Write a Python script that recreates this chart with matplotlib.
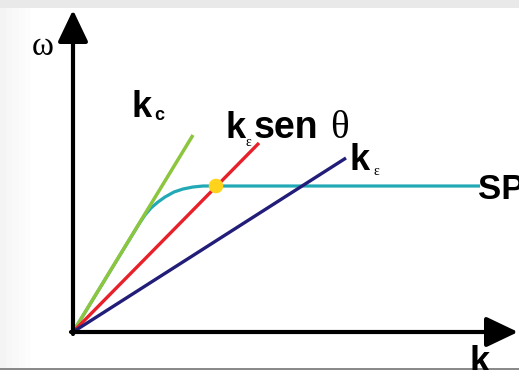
import matplotlib
matplotlib.use("Agg")
import matplotlib.pyplot as plt
from matplotlib.patches import Rectangle

# Dispersion lines (k, omega) from the origin
k_light = [0.0, 1.20]
w_light = [0.0, 1.97]
k_proj = [0.0, 1.86]
w_proj = [0.0, 1.89]
k_medium = [0.0, 2.73]
w_medium = [0.0, 1.74]

# Surface plasmon dispersion curve
sp_k = [0.0, 0.66, 0.72, 0.78, 0.85, 0.92, 1.01, 1.10, 1.20, 1.30, 4.07]
sp_w = [0.0, 1.08, 1.17, 1.24, 1.30, 1.35, 1.40, 1.43, 1.45, 1.46, 1.46]

# Coupling point
k_match = [1.43]
w_match = [1.46]

C_GREEN = "#8cc63e"
C_RED = "#e8202a"
C_BLUE = "#221d78"
C_CYAN = "#22a9b6"
C_YELLOW = "#ffd31c"

fig = plt.figure(figsize=(5.19, 3.70), dpi=100)
ax = fig.add_axes([0, 0, 1, 1])
ax.set_xlim(-0.73, 4.46)
ax.set_ylim(-0.38, 3.32)
ax.axis("off")

# faint border shading
ax.add_patch(Rectangle((0.0, 0.978), 1.0, 0.022, transform=ax.transAxes,
                       facecolor="#e9e9e9", edgecolor="none", zorder=0))
for i, a in enumerate([0.10, 0.08, 0.06, 0.04, 0.02]):
    ax.add_patch(Rectangle((i * 0.012, 0.0), 0.012, 0.978, transform=ax.transAxes,
                           facecolor="#9a9a9a", alpha=a, edgecolor="none", zorder=0))
ax.add_patch(Rectangle((0.0, 0.0), 1.0, 0.006, transform=ax.transAxes,
                       facecolor="#8a8a8a", edgecolor="none", zorder=0))

ax.plot(sp_k, sp_w, color=C_CYAN, lw=2.3, solid_capstyle="butt", zorder=2)
ax.plot(k_light, w_light, color=C_GREEN, lw=2.5, solid_capstyle="butt", zorder=3)
ax.plot(k_proj, w_proj, color=C_RED, lw=2.4, solid_capstyle="butt", zorder=3)
ax.plot(k_medium, w_medium, color=C_BLUE, lw=2.4, solid_capstyle="butt", zorder=3)
ax.scatter(k_match, w_match, s=110, color=C_YELLOW, edgecolor="none", zorder=4)

# axes with arrows
arrow = dict(arrowstyle="-|>,head_length=1.3,head_width=0.62",
             lw=3.0, color="black", shrinkA=0, shrinkB=0, mutation_scale=15)
ax.annotate("", xy=(0, 3.22), xytext=(0, -0.02), arrowprops=arrow,
            annotation_clip=False, zorder=5)
ax.annotate("", xy=(4.45, 0), xytext=(-0.02, 0), arrowprops=arrow,
            annotation_clip=False, zorder=5)

sans = "Liberation Sans"
serif = "Liberation Serif"

ax.text(-0.41, 2.77, "ω", fontsize=24, family=serif, va="baseline", ha="left")
ax.text(3.97, -0.40, "k", fontsize=26, family=sans, weight="bold", va="baseline", ha="left")

ax.text(0.58, 2.15, "k", fontsize=26, family=sans, weight="bold", va="baseline")
ax.text(0.81, 2.12, "c", fontsize=13, family=sans, weight="bold", va="baseline")

ax.text(1.53, 1.94, "k", fontsize=26, family=sans, weight="bold", va="baseline")
ax.text(1.73, 1.86, "ε", fontsize=10, family=serif, va="baseline")
ax.text(1.81, 1.94, "sen", fontsize=27, family=sans, weight="bold", va="baseline")
ax.text(2.57, 1.94, "θ", fontsize=28, family=serif, va="baseline")

ax.text(2.77, 1.62, "k", fontsize=26, family=sans, weight="bold", va="baseline")
ax.text(3.00, 1.57, "ε", fontsize=10, family=serif, va="baseline")

ax.text(4.05, 1.33, "SPP", fontsize=25, family=sans, weight="bold", va="baseline")

fig.savefig("out.png", dpi=100)
